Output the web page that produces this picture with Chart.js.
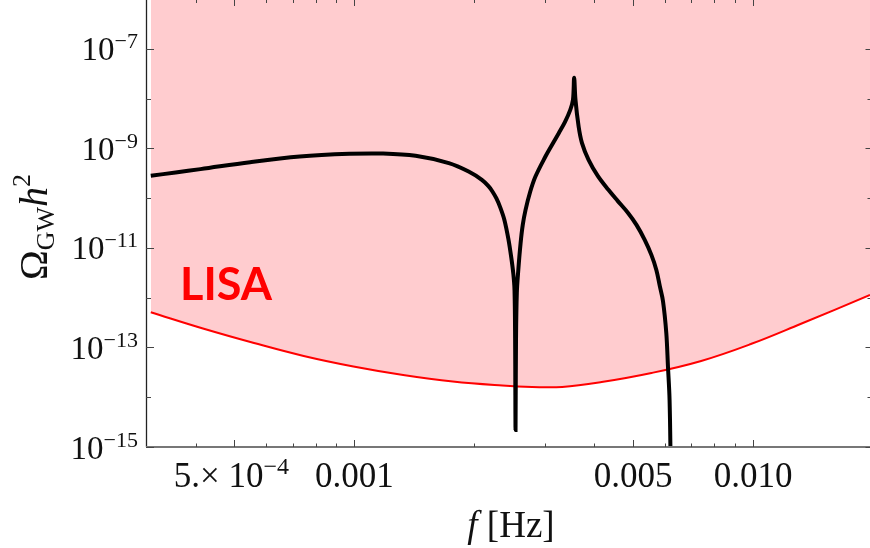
<!DOCTYPE html>
<html>
<head>
<meta charset="utf-8">
<script src="https://cdn.jsdelivr.net/npm/chart.js@4.4.1/dist/chart.umd.min.js"></script>
<style>
html, body { margin: 0; padding: 0; background: #fff; }
#wrap { width: 870px; height: 548px; }
</style>
</head>
<body>
<div id="wrap"><canvas id="gwChart" width="870" height="548"></canvas></div>
<script>
// GW spectrum (black curve)
const gwFreq = [
  3.084e-4, 3.560e-4, 4.109e-4, 5.474e-4, 7.292e-4, 9.717e-4, 1.174e-3, 1.424e-3,
  1.725e-3, 1.934e-3, 2.088e-3, 2.169e-3, 2.219e-3, 2.271e-3, 2.324e-3, 2.378e-3,
  2.433e-3, 2.475e-3, 2.504e-3, 2.521e-3, 2.530e-3, 2.536e-3, 2.543e-3, 2.555e-3,
  2.577e-3, 2.611e-3, 2.644e-3, 2.687e-3, 2.760e-3, 2.845e-3, 3.014e-3, 3.132e-3,
  3.255e-3, 3.375e-3, 3.479e-3, 3.534e-3, 3.558e-3, 3.585e-3, 3.651e-3, 3.721e-3,
  3.867e-3, 4.078e-3, 4.336e-3, 4.574e-3, 4.863e-3, 5.100e-3, 5.348e-3, 5.558e-3,
  5.720e-3, 5.836e-3, 5.944e-3, 6.058e-3, 6.117e-3, 6.174e-3, 6.216e-3
];
const gwOmega = [
  2.80e-10, 3.28e-10, 3.82e-10, 5.28e-10, 6.84e-10, 7.75e-10, 7.86e-10, 7.07e-10,
  5.04e-10, 3.42e-10, 2.33e-10, 1.74e-10, 1.36e-10, 9.84e-11, 6.37e-11, 3.65e-11,
  1.52e-11, 6.30e-12, 3.00e-12, 1.43e-12, 1.42e-13, 2.20e-15, 1.42e-13, 1.25e-12,
  3.61e-12, 1.24e-11, 2.90e-11, 5.80e-11, 1.34e-10, 2.71e-10, 6.84e-10, 1.18e-9,
  2.02e-9, 3.41e-9, 5.94e-9, 9.44e-9, 2.61e-8, 9.44e-9, 2.74e-9, 1.29e-9,
  5.87e-10, 2.80e-10, 1.47e-10, 8.81e-11, 4.98e-11, 2.90e-11, 1.45e-11, 7.23e-12,
  3.61e-12, 1.70e-12, 8.50e-13, 1.96e-13, 4.11e-14, 8.80e-15, 3.45e-16
];

// LISA sensitivity curve (red)
const lisaFreq = [
  3.084e-4, 4.21e-4, 5.60e-4, 7.46e-4, 9.94e-4, 1.325e-3, 1.765e-3, 2.35e-3,
  2.79e-3, 3.32e-3, 4.17e-3, 5.56e-3, 7.41e-3, 9.87e-3, 1.315e-2, 1.965e-2
];
const lisaOmega = [
  5.10e-13, 2.35e-13, 1.23e-13, 6.75e-14, 4.15e-14, 2.80e-14, 2.07e-14, 1.72e-14,
  1.61e-14, 1.61e-14, 2.02e-14, 3.07e-14, 5.36e-14, 1.17e-13, 2.96e-13, 1.13e-12
];

// axes
const xMin = 3.084e-4, xMax = 1.965e-2;
const yMin = 1e-15, yMax = 9.55e-7;
const yMajorExp = [-7, -9, -11, -13, -15];
const yMinorExp = [-6, -8, -10, -12, -14];
const xMajorTicks = [5e-4, 1e-3, 5e-3, 1e-2];
const xMajorLabels = ["5.× 10^−4", "0.001", "0.005", "0.010"];
const xMinorTicks = [4e-4, 6e-4, 7e-4, 8e-4, 9e-4, 2e-3, 3e-3, 4e-3, 6e-3, 7e-3, 8e-3, 9e-3];

const SERIF = '"Liberation Serif", "Times New Roman", serif';

function toPoints(xs, ys) {
  return xs.map((v, i) => ({ x: v, y: ys[i] }));
}

// label "a^b" -> base + superscript
function supParts(label, size) {
  const bits = label.split("^");
  const parts = [{ t: bits[0], size: size, dy: 0 }];
  if (bits[1]) parts.push({ t: bits[1], size: Math.round(size * 0.68), dy: -Math.round(size * 0.37) });
  return parts;
}

function drawParts(ctx, parts, x, y, align) {
  let total = 0;
  parts.forEach(p => {
    ctx.font = (p.style || "") + " " + p.size + "px " + (p.family || SERIF);
    p.w = ctx.measureText(p.t).width;
    total += p.w;
  });
  let cx = x;
  if (align === "center") cx = x - total / 2;
  if (align === "right") cx = x - total;
  ctx.textAlign = "left";
  ctx.textBaseline = "alphabetic";
  parts.forEach(p => {
    ctx.font = (p.style || "") + " " + p.size + "px " + (p.family || SERIF);
    ctx.fillText(p.t, cx, y + (p.dy || 0));
    cx += p.w;
  });
}

const framePlugin = {
  id: "frame",
  afterDraw(chart) {
    const ctx = chart.ctx;
    const a = chart.chartArea;
    const xs = chart.scales.x;
    const ys = chart.scales.y;
    ctx.save();

    /* LISA LABEL */
    ctx.fillStyle = "#ff0000";
    ctx.font = 'bold 45px Lato, "Noto Sans", sans-serif';
    ctx.textAlign = "left";
    ctx.textBaseline = "alphabetic";
    ctx.fillText("LISA", 180, 300);

    /* FRAME */
    ctx.strokeStyle = "#222";
    ctx.lineWidth = 1.3;
    ctx.beginPath();
    ctx.moveTo(a.left + 0.5, a.top);
    ctx.lineTo(a.left + 0.5, a.bottom);
    ctx.stroke();
    ctx.strokeStyle = "#777";
    ctx.lineWidth = 2;
    ctx.beginPath();
    ctx.moveTo(a.left, a.bottom);
    ctx.lineTo(a.right, a.bottom);
    ctx.stroke();

    /* TICKS */
    ctx.strokeStyle = "#444";
    ctx.lineWidth = 1;
    function tickY(v, lenL, lenR) {
      const py = Math.round(ys.getPixelForValue(v)) + 0.5;
      ctx.beginPath();
      ctx.moveTo(a.left, py); ctx.lineTo(a.left + lenL, py);
      ctx.moveTo(a.right, py); ctx.lineTo(a.right - lenR, py);
      ctx.stroke();
    }
    function tickX(v, lenB, lenT) {
      const px = Math.round(xs.getPixelForValue(v)) + 0.5;
      ctx.beginPath();
      ctx.moveTo(px, a.bottom); ctx.lineTo(px, a.bottom - lenB);
      ctx.moveTo(px, a.top); ctx.lineTo(px, a.top + lenT);
      ctx.stroke();
    }
    yMajorExp.forEach(e => tickY(Math.pow(10, e), 8, 4.5));
    yMinorExp.forEach(e => tickY(Math.pow(10, e), 5, 2.5));
    xMajorTicks.forEach(v => tickX(v, 7, 6));
    xMinorTicks.forEach(v => tickX(v, 3.5, 3));

    /* TICK LABELS */
    ctx.fillStyle = "#111";
    yMajorExp.forEach(e => {
      const py = ys.getPixelForValue(Math.pow(10, e));
      drawParts(ctx, supParts("10^−" + Math.abs(e), 33), 138, py + 11.5, "right");
    });
    xMajorTicks.forEach((v, i) => {
      const px = xs.getPixelForValue(v);
      drawParts(ctx, supParts(xMajorLabels[i], 35), i === 0 ? px - 3 : px, 487, "center");
    });

    /* AXIS TITLES */
    drawParts(ctx, [
      { t: "f", size: 37, style: "italic" },
      { t: " [Hz]", size: 37 }
    ], (a.left + a.right) / 2 + 3, 537, "center");

    ctx.save();
    ctx.translate(47, 227);
    ctx.rotate(-Math.PI / 2);
    drawParts(ctx, [
      { t: "Ω", size: 40 },
      { t: "GW", size: 26, dy: 7 },
      { t: "h", size: 40, style: "italic" },
      { t: "2", size: 26, dy: -17 }
    ], 0, 0, "center");
    ctx.restore();

    ctx.restore();
  }
};

new Chart(document.getElementById("gwChart"), {
  type: "line",
  data: {
    datasets: [
      {
        label: "spectrum",
        data: toPoints(gwFreq, gwOmega),
        borderColor: "#000",
        borderWidth: 4,
        pointRadius: 0,
        tension: 0.35,
        fill: false,
        order: 0
      },
      {
        label: "LISA",
        data: toPoints(lisaFreq, lisaOmega),
        borderColor: "#ff0000",
        borderWidth: 2,
        pointRadius: 0,
        tension: 0.4,
        backgroundColor: "rgb(255,204,207)",
        fill: "end",
        order: 1
      }
    ]
  },
  options: {
    responsive: false,
    animation: false,
    devicePixelRatio: 1,
    layout: { padding: { left: 146, right: 0, top: 0, bottom: 101 } },
    plugins: { legend: { display: false }, tooltip: { enabled: false } },
    scales: {
      x: { type: "logarithmic", min: xMin, max: xMax, display: false },
      y: { type: "logarithmic", min: yMin, max: yMax, display: false }
    }
  },
  plugins: [framePlugin]
});
</script>
</body>
</html>
